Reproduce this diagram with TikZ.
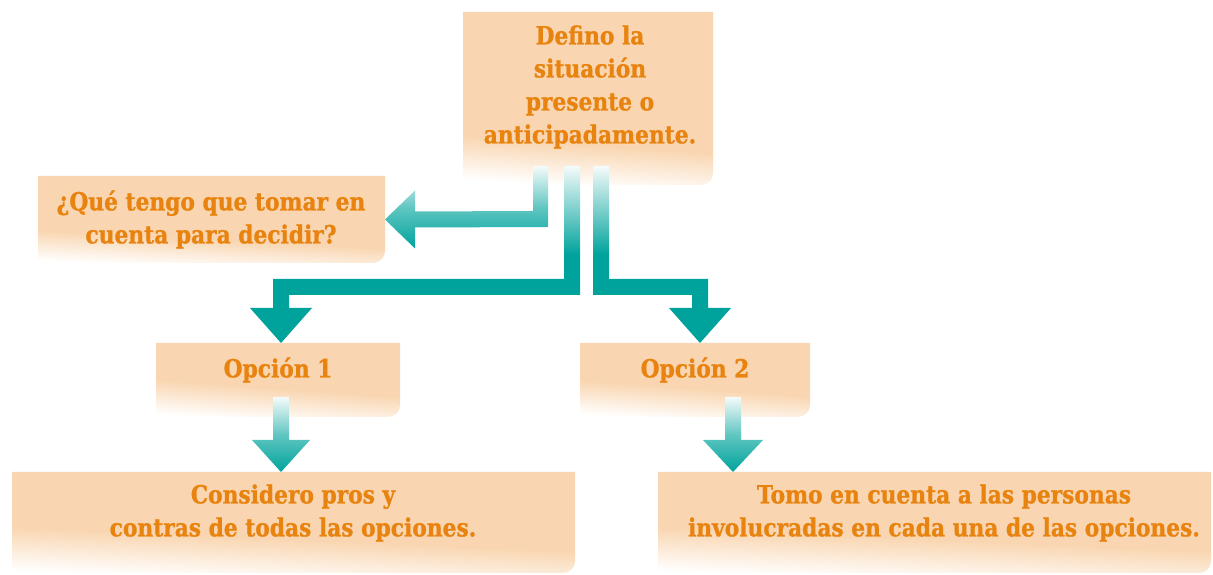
\documentclass[tikz,border=0pt]{standalone}
\usepackage{fontspec}
\newfontfamily\lblfont{DejaVu Serif}[FakeStretch=0.87,FakeBold=1]
\usetikzlibrary{calc}
\definecolor{peach}{HTML}{F9D6B1}
\definecolor{txtorange}{HTML}{E8830F}
\definecolor{tealc}{HTML}{00A39C}
% vertical fades: white at the bottom edge (25bp) to peach at the given stop
\pgfdeclareverticalshading{fadetop}{100bp}{color(0bp)=(white); color(25bp)=(white); color(37bp)=(peach); color(100bp)=(peach)}
\pgfdeclareverticalshading{fadeq}{100bp}{color(0bp)=(white); color(25bp)=(white); color(40bp)=(peach); color(100bp)=(peach)}
\pgfdeclareverticalshading{fadeopt}{100bp}{color(0bp)=(white); color(25bp)=(white); color(45bp)=(peach); color(100bp)=(peach)}
\pgfdeclareverticalshading{fadebot}{100bp}{color(0bp)=(white); color(25bp)=(white); color(43bp)=(peach); color(100bp)=(peach)}
% box background with rounded bottom-right corner
\newcommand\peachbox[3]{%
  \shade[shading=#2,shading angle=#3] (#1.north west) -- (#1.north east) -- ([yshift=12pt]#1.south east)
      arc[start angle=0,end angle=-90,radius=12pt] -- (#1.south west) -- cycle;}
\tikzset{
  boxarea/.style={inner sep=0pt,outer sep=0pt,draw=none},
  label/.style={text=txtorange,font=\lblfont\bfseries\fontsize{25}{33}\selectfont,align=center,inner sep=0pt},
  fatarrow/.style={draw=none,top color=tealc!4,bottom color=tealc,middle color=tealc!62},
  fatarrowmid/.style={draw=none,top color=tealc!4,bottom color=tealc,middle color=tealc},
}
\begin{document}
\begin{tikzpicture}[x=1pt,y=1pt]
\useasboundingbox (0,0) rectangle (1213,575);
\fill[white] (0,0) rectangle (1213,575);

% box areas
\node[boxarea,minimum width=250pt,minimum height=173pt] (topbox) at (588,476.5) {};
\node[boxarea,minimum width=347pt,minimum height=87pt]  (qbox)   at (211.5,355.5) {};
\node[boxarea,minimum width=244pt,minimum height=74pt]  (o1box)  at (278,195) {};
\node[boxarea,minimum width=230pt,minimum height=74pt]  (o2box)  at (695,195) {};
\node[boxarea,minimum width=563pt,minimum height=101pt] (b1box)  at (293.5,52.5) {};
\node[boxarea,minimum width=553pt,minimum height=101pt] (b2box)  at (934.5,52.5) {};

% backgrounds
\peachbox{topbox}{fadetop}{-4}
\peachbox{qbox}{fadeq}{-3}
\peachbox{o1box}{fadeopt}{-4}
\peachbox{o2box}{fadeopt}{-4}
\peachbox{b1box}{fadebot}{-2.5}
\peachbox{b2box}{fadebot}{-2.5}

% connectors (fat arrows)
% top -> question
\shade[fatarrow] (533,409) -- (548,409) -- (548,348) -- ([yshift=-8pt,xshift=30pt]qbox.east)
  -- ([yshift=-29pt,xshift=30pt]qbox.east) -- (qbox.east) -- ([yshift=29pt,xshift=30pt]qbox.east)
  -- ([yshift=8pt,xshift=30pt]qbox.east) -- (533,364) -- cycle;
% top -> option 1
\shade[fatarrowmid] (564,409) -- (580,409) -- (580,280) -- (289,280) -- (289,267)
  -- ([xshift=34pt,yshift=35pt]o1box.north) -- ([xshift=3pt]o1box.north)
  -- ([xshift=-28pt,yshift=35pt]o1box.north) -- (273,267) -- (273,296) -- (564,296) -- cycle;
% top -> option 2
\shade[fatarrowmid] (593,409) -- (609,409) -- (609,296) -- (708,296) -- (708,267)
  -- ([xshift=36pt,yshift=35pt]o2box.north) -- ([xshift=5pt]o2box.north)
  -- ([xshift=-26pt,yshift=35pt]o2box.north) -- (692,267) -- (692,280) -- (593,280) -- cycle;
% option 1 -> bottom left
\shade[fatarrow] (273,178) -- (289,178) -- (289,135) -- (310,135) -- ([xshift=-12.5pt]b1box.north)
  -- (252,135) -- (273,135) -- cycle;
% option 2 -> bottom right
\shade[fatarrow] (725,178) -- (741,178) -- (741,135) -- (763,135) -- ([xshift=-201.5pt]b2box.north)
  -- (703,135) -- (725,135) -- cycle;

% texts
\node[label] (top) at (590,488) {Defino la\\situación\\presente o\\anticipadamente.};
\node[label] (q)   at (211,355.5) {¿Qué tengo que tomar en\\cuenta para decidir?};
\node[label] (o1)  at (278,205) {Opción 1};
\node[label] (o2)  at (695,205) {Opción 2};
\node[label] (b1)  at (293,62) {Considero pros y\\contras de todas las opciones.};
\node[label] (b2)  at (944,62) {Tomo en cuenta a las personas\\involucradas en cada una de las opciones.};
\end{tikzpicture}
\end{document}
